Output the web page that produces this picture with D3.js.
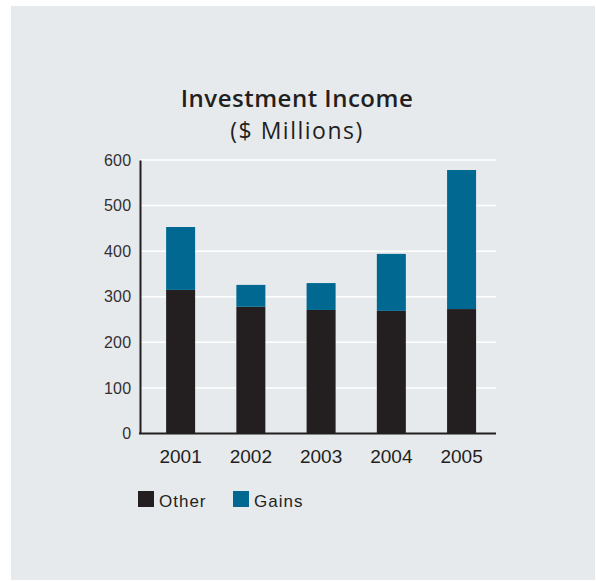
<!DOCTYPE html>
<html>
<head>
<meta charset="utf-8">
<script src="https://cdn.jsdelivr.net/npm/d3@7"></script>
<style>
  html, body { margin: 0; padding: 0; background: #ffffff; }
  svg { display: block; }
</style>
</head>
<body>
<svg id="chart" width="596" height="581"></svg>
<script>
// Investment income by year, split into "Other" and "Gains" ($ millions)
const years = ["2001", "2002", "2003", "2004", "2005"];
const otherValues = [315, 278, 271, 269, 273];
const gainsValues = [138, 48, 59, 125, 305];
const seriesNames = ["Other", "Gains"];
const seriesColors = ["#231f20", "#006891"];
const yTicks = [0, 100, 200, 300, 400, 500, 600];

const rows = years.map((y, i) => ({ year: y, Other: otherValues[i], Gains: gainsValues[i] }));
const stacked = d3.stack().keys(seriesNames)(rows);

const svg = d3.select("#chart");

// panel background
svg.append("rect")
  .attr("x", 11).attr("y", 6)
  .attr("width", 584).attr("height", 574)
  .attr("fill", "#e7eaed");

const plot = { left: 140, right: 496, top: 160, bottom: 433.5 };

const y = d3.scaleLinear().domain([0, 600]).range([plot.bottom, plot.top]);
const pad = 1 - 29 / 70.24;
const x = d3.scaleBand().domain(years)
  .range([145.5, 496.7])
  .paddingInner(pad)
  .paddingOuter(pad / 2);

// title
svg.append("text")
  .attr("x", 297).attr("y", 106.7)
  .attr("text-anchor", "middle")
  .attr("font-family", "'Open Sans', 'Noto Sans', sans-serif")
  .attr("font-weight", 600)
  .attr("font-size", 24)
  .attr("letter-spacing", 0.5)
  .attr("fill", "#231f20")
  .text("Investment Income");
svg.append("text")
  .attr("x", 297).attr("y", 139.3)
  .attr("text-anchor", "middle")
  .attr("font-family", "'Open Sans', 'Noto Sans', sans-serif")
  .attr("font-size", 23)
  .attr("letter-spacing", 1.5)
  .attr("fill", "#231f20")
  .text("($ Millions)");

// white gridlines
svg.append("g")
  .selectAll("line")
  .data(yTicks.filter(t => t > 0))
  .join("line")
  .attr("x1", plot.left).attr("x2", plot.right)
  .attr("y1", d => y(d)).attr("y2", d => y(d))
  .attr("stroke", "#ffffff")
  .attr("stroke-width", 1.5);

// stacked bars
svg.append("g")
  .selectAll("g")
  .data(stacked)
  .join("g")
  .attr("fill", (d, i) => seriesColors[i])
  .selectAll("rect")
  .data(d => d)
  .join("rect")
  .attr("x", d => x(d.data.year))
  .attr("width", x.bandwidth())
  .attr("y", d => y(d[1]))
  .attr("height", d => y(d[0]) - y(d[1]));

// y axis
const yAxis = svg.append("g")
  .attr("transform", `translate(${plot.left},0)`)
  .call(d3.axisLeft(y).tickValues(yTicks).tickSize(0).tickPadding(8.5));
yAxis.select(".domain").attr("stroke", "#231f20").attr("stroke-width", 2);
yAxis.selectAll("text")
  .attr("font-family", "'Liberation Sans', Arial, sans-serif")
  .attr("font-size", 16)
  .attr("letter-spacing", 0.3)
  .attr("fill", "#333031");

// x axis
const xAxis = svg.append("g")
  .attr("transform", `translate(0,${plot.bottom})`)
  .call(d3.axisBottom(x).tickSize(0).tickPadding(16));
xAxis.select(".domain").remove();
xAxis.selectAll("text")
  .attr("font-family", "'Liberation Sans', Arial, sans-serif")
  .attr("font-size", 19)
  .attr("fill", "#231f20");
svg.append("line")
  .attr("x1", plot.left - 1).attr("x2", plot.right)
  .attr("y1", plot.bottom).attr("y2", plot.bottom)
  .attr("stroke", "#231f20")
  .attr("stroke-width", 2);

// legend
const legendX = [138, 233];
const legend = svg.append("g")
  .selectAll("g")
  .data(seriesNames)
  .join("g")
  .attr("transform", (d, i) => `translate(${legendX[i]},491)`);
legend.append("rect")
  .attr("width", 16).attr("height", 16)
  .attr("fill", (d, i) => seriesColors[i]);
legend.append("text")
  .attr("x", 21).attr("y", 15.5)
  .attr("font-family", "'Liberation Sans', Arial, sans-serif")
  .attr("font-size", 17)
  .attr("letter-spacing", 1)
  .attr("fill", "#231f20")
  .text(d => d);
</script>
</body>
</html>
